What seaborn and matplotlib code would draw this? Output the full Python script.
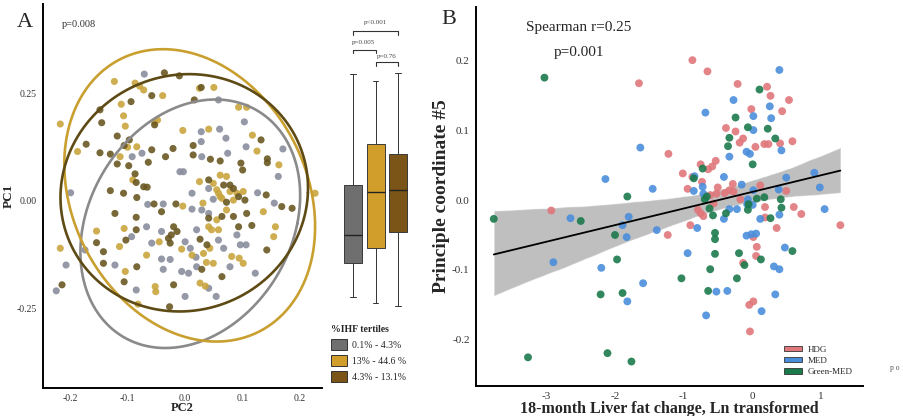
import numpy as np
import pandas as pd
import seaborn as sns
import matplotlib.pyplot as plt
from matplotlib.patches import Patch

# Panel A data - PCoA by %IHF tertile (x = PC2, y = PC1)
# ==============================================================================
grey_pc2 = [-0.071, 0.058, 0.103, 0.028, 0.060, 0.170, 0.028, 0.071, 0.106, -0.092,
            -0.075, 0.029, 0.074, 0.162, -0.009, -0.003, 0.041, -0.199, -0.065, -0.038,
            0.012, 0.049, 0.126, 0.155, 0.012, 0.029, 0.041, -0.067, -0.041, 0.020,
            -0.093, -0.058, 0.000, 0.058, 0.067, 0.090, 0.096, 0.106, -0.174, -0.207,
            -0.041, -0.026, 0.009, 0.019, -0.122, -0.038, -0.006, 0.006, 0.020, 0.078,
            0.122, -0.085, 0.041, -0.224, 0.000, 0.054]
grey_pc1 = [0.295, 0.235, 0.184, 0.161, 0.167, 0.121, 0.138, 0.146, 0.126, 0.103,
            0.111, 0.103, 0.111, 0.057, 0.068, 0.068, 0.029, 0.019, -0.008, -0.007,
            0.018, 0.004, 0.019, -0.005, -0.019, -0.021, -0.029, -0.060, -0.071, -0.067,
            -0.083, -0.098, -0.095, -0.091, -0.110, -0.079, -0.102, -0.102, -0.114, -0.149,
            -0.135, -0.136, -0.110, -0.131, -0.149, -0.159, -0.164, -0.168, -0.153, -0.153,
            -0.168, -0.207, -0.203, -0.209, -0.222, -0.222]

gold_pc2 = [-0.123, -0.087, -0.079, -0.072, -0.039, -0.111, 0.025, 0.050, 0.093, 0.107,
            -0.107, -0.104, -0.053, -0.048, -0.217, -0.004, 0.041, 0.117, -0.187, -0.100,
            -0.084, 0.125, -0.113, 0.163, -0.091, 0.025, 0.049, 0.055, 0.061, 0.072,
            0.058, 0.064, 0.078, 0.090, 0.101, -0.004, 0.031, 0.061, 0.084, 0.226,
            0.072, 0.055, 0.136, -0.106, -0.154, 0.041, 0.046, 0.058, 0.157, 0.154,
            -0.114, -0.045, 0.043, -0.217, -0.067, -0.006, 0.012, 0.032, 0.037, 0.081,
            0.094, 0.101, -0.104, 0.049, -0.052, -0.051, 0.026, 0.035, -0.082]
gold_pc1 = [0.278, 0.274, 0.267, 0.258, 0.245, 0.225, 0.262, 0.264, 0.218, 0.218,
            0.198, 0.174, 0.184, 0.188, 0.179, 0.164, 0.167, 0.153, 0.115, 0.125,
            0.126, 0.116, 0.103, 0.084, 0.049, 0.045, 0.041, 0.026, 0.060, 0.057,
            0.018, 0.006, 0.022, 0.018, 0.022, -0.012, -0.005, 0.010, 0.002, 0.018,
            -0.021, -0.044, -0.025, -0.064, -0.070, -0.060, -0.067, -0.067, -0.060, -0.083,
            -0.106, -0.095, -0.110, -0.110, -0.126, -0.112, -0.126, -0.122, -0.143, -0.129,
            -0.133, -0.145, -0.164, -0.145, -0.199, -0.211, -0.191, -0.198, -0.240]

brown_pc2 = [-0.036, -0.010, -0.058, -0.094, -0.148, 0.028, 0.016, -0.053, -0.145, -0.118,
             -0.097, 0.132, -0.172, -0.106, -0.058, 0.014, 0.143, 0.143, -0.148, -0.130,
             -0.118, -0.098, -0.064, -0.034, -0.021, 0.014, 0.044, 0.061, 0.097, 0.100,
             -0.087, -0.085, -0.072, -0.066, 0.041, 0.067, 0.078, 0.084, -0.130, -0.107,
             -0.084, -0.054, -0.016, 0.072, 0.093, 0.104, 0.141, 0.168, 0.186, -0.122,
             -0.085, -0.041, 0.041, 0.064, 0.084, 0.107, -0.085, -0.020, -0.014, -0.024,
             0.093, 0.116, -0.103, -0.154, -0.029, -0.026, 0.026, 0.038, 0.142, -0.142,
             -0.142, -0.084, 0.029, -0.106, -0.020, 0.064, -0.214, -0.027]
brown_pc1 = [0.298, 0.291, 0.245, 0.231, 0.212, 0.264, 0.235, 0.177, 0.182, 0.151,
             0.142, 0.142, 0.132, 0.129, 0.119, 0.129, 0.098, 0.089, 0.112, 0.109,
             0.086, 0.082, 0.090, 0.103, 0.122, 0.107, 0.097, 0.093, 0.088, 0.072,
             0.063, 0.043, 0.033, 0.032, 0.049, 0.037, 0.037, 0.029, 0.024, 0.018,
             0.008, -0.007, -0.007, -0.003, 0.010, 0.002, 0.014, -0.013, -0.017, -0.029,
             -0.038, -0.025, -0.040, -0.036, -0.036, -0.029, -0.067, -0.060, -0.071, -0.079,
             -0.060, -0.057, -0.091, -0.097, -0.087, -0.098, -0.089, -0.102, -0.114, -0.118,
             -0.145, -0.153, -0.159, -0.188, -0.195, -0.176, -0.195, -0.246]

tertile_labels = ['0.1% - 4.3%', '13% - 44.6 %', '4.3% - 13.1%']

# Ellipse parameters (centre, half-width, half-height, shear) for each tertile
ell_cx = [0.009, 0.008, -0.0015]
ell_cy = [-0.053, 0.013, 0.019]
ell_ax = [0.186, 0.213, 0.215]
ell_by = [0.289, 0.340, 0.276]
ell_sxy = [0.0435, -0.0465, 0.0085]

# Box plot stats of PC1 per tertile
box_whislo = [-0.223, -0.237, -0.244]
box_q1 = [-0.144, -0.109, -0.072]
box_med = [-0.079, 0.021, 0.026]
box_q3 = [0.037, 0.133, 0.109]
box_whishi = [0.295, 0.279, 0.298]

# Pairwise tests
pair_from = [1, 1, 2]
pair_to = [3, 2, 3]
pair_label = ['p<0.001', 'p=0.005', 'p=0.76']

# Panel B data - liver fat change vs PCo5 by diet group
# ==============================================================================
hdg_x = [-0.87, -0.65, -1.65, -0.21, 0.22, 0.27, 0.54, -0.01, 0.44, -0.38,
         -0.24, -0.13, -0.18, 0.05, 0.18, 0.24, 0.41, 0.59, -1.22, -1.01,
         -0.75, -0.64, -0.58, -0.53, -0.87, -0.73, -0.50, -0.28, -0.33, 0.12,
         -0.94, -0.61, -0.52, -0.40, -0.79, -0.75, -0.71, -0.27, 0.50, 0.61,
         0.72, 0.19, -2.93, -1.23, -0.90, 0.36, 0.02, 0.07, 0.06, -0.13,
         0.19, 1.29, -0.04, 0.02, -0.03, -0.17, -0.56]
hdg_y = [0.200, 0.184, 0.167, 0.166, 0.162, 0.149, 0.143, 0.130, 0.127, 0.103,
         0.098, 0.088, 0.082, 0.076, 0.080, 0.080, 0.081, 0.084, 0.066, 0.038,
         0.051, 0.044, 0.048, 0.056, 0.033, 0.026, 0.018, 0.023, 0.014, 0.021,
         0.016, 0.007, 0.009, 0.010, -0.014, -0.019, -0.023, 0.012, 0.013, -0.010,
         -0.020, -0.010, -0.015, -0.050, -0.036, -0.040, -0.053, -0.067, -0.080, -0.090,
         -0.025, -0.036, -0.150, -0.145, -0.188, 0.001, -0.005]

med_x = [0.40, -0.27, 0.26, -0.68, 0.02, 0.28, 0.02, -1.63, -0.33, -0.08,
         -0.03, 0.43, -0.41, -0.84, -2.14, -1.45, -0.85, -0.71, -0.15, 0.02,
         0.50, 0.91, 0.99, 1.06, 0.39, -2.65, -1.80, -1.89, -1.83, -1.39,
         -0.80, -0.41, -0.22, -0.33, -0.07, 0.01, 0.12, 0.40, -0.08, -0.01,
         0.06, -0.94, 0.48, -2.90, -2.20, -1.59, -1.82, -0.67, -0.52, -0.36,
         0.14, 0.34, 0.32, 0.40, -0.06, -0.72]
med_y = [0.186, 0.143, 0.134, 0.125, 0.120, 0.117, 0.100, 0.075, 0.062, 0.069,
         0.066, 0.071, 0.033, 0.034, 0.030, 0.016, 0.013, 0.009, 0.022, 0.014,
         0.032, 0.039, 0.018, -0.013, 0.015, -0.026, -0.024, -0.036, -0.053, -0.043,
         -0.040, -0.027, -0.013, -0.013, -0.006, -0.007, -0.027, -0.021, -0.051, -0.049,
         -0.048, -0.076, -0.068, -0.089, -0.097, -0.119, -0.145, -0.165, -0.131, -0.130,
         -0.159, -0.135, -0.095, -0.099, 0.001, 0.019]

green_x = [-3.03, 0.11, -0.24, -0.06, 0.23, 0.34, -0.33, -0.35, 0.01, -0.72,
           -0.85, -1.82, -2.50, -3.77, -2.00, -0.69, -0.62, -0.57, -0.38, -0.06,
           -0.05, 0.18, 0.42, 0.43, 0.27, -0.54, -0.54, -0.54, -0.19, -0.11,
           0.13, 0.59, -1.97, -0.61, -1.03, -0.22, -2.21, -1.89, -0.64, -3.27,
           -2.11, -1.76, 0.07, -0.66]
green_y = [0.175, 0.158, 0.118, 0.104, 0.102, 0.088, 0.089, 0.077, 0.051, 0.045,
           0.031, 0.005, -0.030, -0.027, -0.050, 0.001, -0.012, -0.022, -0.019, -0.014,
           -0.006, 0.004, 0.001, -0.011, -0.026, -0.047, -0.056, -0.077, -0.076, -0.093,
           -0.085, -0.073, -0.085, -0.099, -0.112, -0.112, -0.135, -0.133, -0.130, -0.225,
           -0.219, -0.231, 0.002, 0.005]

diet_labels = ['HDG', 'MED', 'Green-MED']

# Build tables
# ==============================================================================
dfa = pd.DataFrame({
    'pc2': grey_pc2 + gold_pc2 + brown_pc2,
    'pc1': grey_pc1 + gold_pc1 + brown_pc1,
    'tertile': [tertile_labels[0]] * len(grey_pc2) + [tertile_labels[1]] * len(gold_pc2)
               + [tertile_labels[2]] * len(brown_pc2)})

dfb = pd.DataFrame({
    'liver': hdg_x + med_x + green_x,
    'pco5': hdg_y + med_y + green_y,
    'diet': [diet_labels[0]] * len(hdg_x) + [diet_labels[1]] * len(med_x)
            + [diet_labels[2]] * len(green_x)})

# Style
# ==============================================================================
sns.set_theme(style="white")
plt.rcParams['font.family'] = ['Liberation Serif', 'DejaVu Serif']
plt.rcParams['axes.linewidth'] = 1.4
plt.rcParams['axes.unicode_minus'] = False

point_cols = ['#8A8D9C', '#C9A53E', '#6A5822']
ell_cols = ['#8A8A8A', '#C9A030', '#5E4A14']
box_cols = ['#6F6F6F', '#D29E2B', '#7B5518']
diet_cols = ['#E0777B', '#4A8EDB', '#1B7A4C']

fig = plt.figure(figsize=(9.04, 4.16), dpi=100)
ax_a = fig.add_axes([0.0476, 0.0673, 0.3086, 0.923])
ax_box = fig.add_axes([0.3656, 0.0673, 0.0996, 0.923])
ax_b = fig.add_axes([0.5265, 0.0721, 0.4281, 0.911])

# Panel A - scatter + ellipses
# ==============================================================================
sns.scatterplot(data=dfa, x='pc2', y='pc1', hue='tertile', palette=dict(zip(tertile_labels, point_cols)),
                s=26, alpha=0.9, edgecolor='none', legend=False, ax=ax_a)

t = np.linspace(0, 2 * np.pi, 300)
for i in range(3):
    ex = ell_cx[i] + ell_ax[i] * np.cos(t) + ell_sxy[i] * np.sin(t)
    ey = ell_cy[i] + ell_by[i] * np.sin(t)
    ax_a.plot(ex, ey, color=ell_cols[i], lw=1.9)

ax_a.set_xlim(-0.247, 0.238)
ax_a.set_ylim(-0.435, 0.458)
ax_a.set_xticks([-0.2, -0.1, 0.0, 0.1, 0.2])
ax_a.set_xticklabels(['-0.2', '-0.1', '0.0', '0.1', '0.2'])
ax_a.set_yticks([-0.25, 0.0, 0.25])
ax_a.set_yticklabels(['-0.25', '0.00', '0.25'])
ax_a.tick_params(axis='both', labelsize=7, colors='#444444', length=2.5, width=0.8, pad=2, direction='out')
ax_a.tick_params(axis='both', labelcolor='#333333')
ax_a.set_xlabel('PC2', fontsize=9, fontweight='bold', labelpad=-1)
ax_a.set_ylabel('PC1', fontsize=9.5, fontweight='bold', labelpad=1)
for side in ['top', 'right']:
    ax_a.spines[side].set_visible(False)
for side in ['left', 'bottom']:
    ax_a.spines[side].set_color('black')
ax_a.text(0.068, 0.948, 'p=0.008', transform=ax_a.transAxes, fontsize=7.5, color='#333333', va='center')
fig.text(0.028, 0.947, 'A', fontsize=16, va='center', ha='center')

# Box plot of PC1 by tertile
# ==============================================================================
stats = [{'whislo': box_whislo[i], 'q1': box_q1[i], 'med': box_med[i], 'q3': box_q3[i],
          'whishi': box_whishi[i], 'fliers': []} for i in range(3)]
bp = ax_box.bxp(stats, positions=[1, 2, 3], widths=0.8, patch_artist=True, showcaps=False,
                boxprops={'edgecolor': '#3a3a3a', 'linewidth': 0.7},
                medianprops={'color': '#222222', 'linewidth': 1.0},
                whiskerprops={'color': '#333333', 'linewidth': 0.7})
for patch, col in zip(bp['boxes'], box_cols):
    patch.set_facecolor(col)
for pos in [1, 2, 3]:
    ax_box.plot([pos - 0.12, pos + 0.12], [box_whislo[pos - 1]] * 2, color='#333333', lw=0.7)
    ax_box.plot([pos - 0.12, pos + 0.12], [box_whishi[pos - 1]] * 2, color='#333333', lw=0.7)

bracket_y = [0.395, 0.351, 0.323]
label_y = [0.414, 0.368, 0.336]
label_x = [2.0, 1.45, 2.5]
for i in range(3):
    x0, x1, yb = pair_from[i], pair_to[i], bracket_y[i]
    ax_box.plot([x0, x0, x1, x1], [yb - 0.008, yb, yb, yb - 0.008], color='#333333', lw=0.8)
    ax_box.text(label_x[i], label_y[i], pair_label[i], fontsize=5, ha='center', va='center', color='#444444')
ax_box.set_xlim(0, 4)
ax_box.set_ylim(-0.435, 0.458)
ax_box.axis('off')

handles = [Patch(facecolor=c, edgecolor='#333333', linewidth=0.7) for c in box_cols]
fig.legend(handles, tertile_labels, title='%IHF tertiles', loc='upper left',
           bbox_to_anchor=(0.362, 0.228), frameon=False, fontsize=7, title_fontsize=7,
           handlelength=1.6, handleheight=1.3, labelspacing=0.55, handletextpad=0.5, borderaxespad=0)
fig.legends[-1].get_title().set_fontweight('bold')
fig.legends[-1]._legend_box.align = 'left'

# Panel B - regression scatter
# ==============================================================================
sns.regplot(data=dfb, x='liver', y='pco5', scatter=False, color='black', ci=95, seed=1,
            line_kws={'lw': 1.3}, ax=ax_b)
for coll in ax_b.collections:
    coll.set_alpha(0.25)
sns.scatterplot(data=dfb, x='liver', y='pco5', hue='diet', palette=dict(zip(diet_labels, diet_cols)),
                s=32, alpha=0.9, edgecolor='none', legend=False, ax=ax_b)
for line in ax_b.lines:
    line.set_zorder(5)

ax_b.set_xlim(-4.03, 1.62)
ax_b.set_ylim(-0.266, 0.276)
ax_b.set_xticks([-3, -2, -1, 0, 1])
ax_b.set_yticks([-0.2, -0.1, 0.0, 0.1, 0.2])
ax_b.set_yticklabels(['-0.2', '-0.1', '0.0', '0.1', '0.2'])
ax_b.tick_params(axis='both', labelsize=8, colors='#444444', length=2.5, width=0.8, pad=2, direction='out')
ax_b.tick_params(axis='both', labelcolor='#333333')
ax_b.set_xlabel('18-month Liver fat change, Ln transformed', fontsize=11.5, fontweight='bold', labelpad=0)
ax_b.set_ylabel('Principle coordinate #5', fontsize=14, fontweight='bold', labelpad=1.5)
for side in ['top', 'right']:
    ax_b.spines[side].set_visible(False)
for side in ['left', 'bottom']:
    ax_b.spines[side].set_color('black')
ax_b.text(0.266, 0.945, 'Spearman r=0.25', transform=ax_b.transAxes, fontsize=11, ha='center', va='center')
ax_b.text(0.266, 0.881, 'p=0.001', transform=ax_b.transAxes, fontsize=11, ha='center', va='center')
fig.text(0.496, 0.952, 'B', fontsize=16, va='center', ha='center')

diet_handles = [Patch(facecolor=c, edgecolor='#333333', linewidth=0.6) for c in diet_cols]
ax_b.legend(diet_handles, diet_labels, loc='lower right', bbox_to_anchor=(0.995, 0.005), frameon=False,
            fontsize=6.5, handlelength=2.0, handleheight=0.55, labelspacing=0.35, handletextpad=0.6)
fig.text(0.984, 0.115, 'p o', fontsize=5.5, color='#555555', va='center')

fig.savefig('out.png', dpi=100)
